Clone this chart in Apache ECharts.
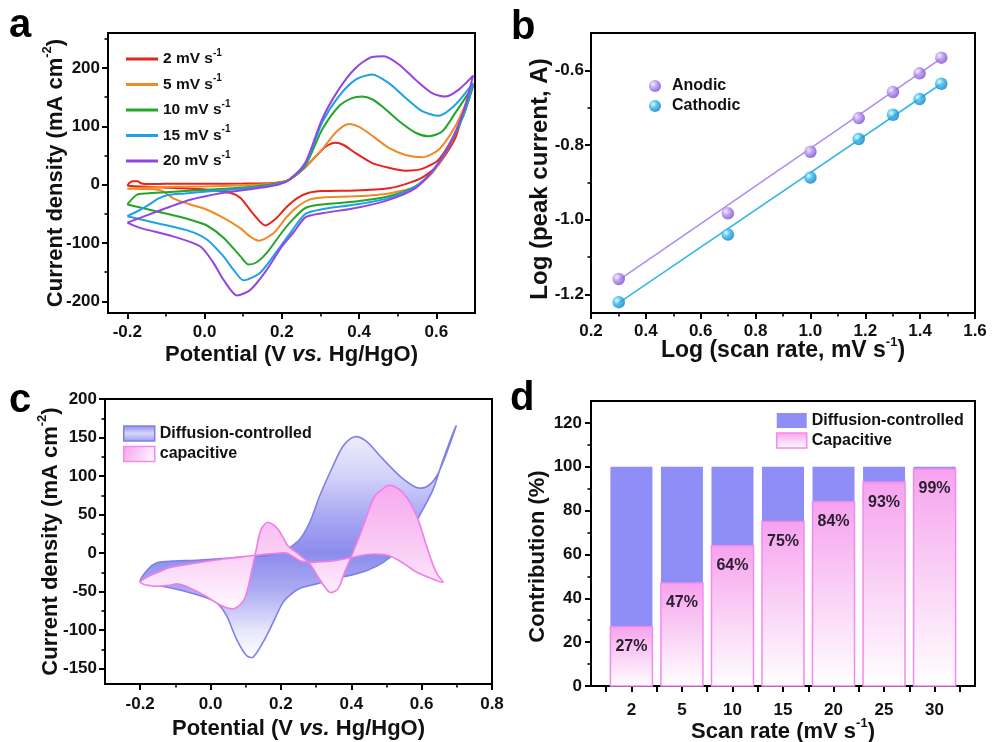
<!DOCTYPE html>
<html><head><meta charset="utf-8">
<script src="https://cdn.jsdelivr.net/npm/echarts@6/dist/echarts.min.js"></script>
<style>html,body{margin:0;padding:0;background:#fff}#c{width:992px;height:742px}</style>
</head><body><div id="c"></div>
<script>
// ================= DATA =================
// Panel a: CV curves [potential V, current density mA cm-2] in scan order
const cvNames = ['2 mV s-1', '5 mV s-1', '10 mV s-1', '15 mV s-1', '20 mV s-1'];
const cv2 = [[-0.2,-2],[-0.195,3],[-0.186,6],[-0.174,6],[-0.163,2],[-0.14,1],[-0.1,1.5],[0,1.5],[0.1,2],[0.18,3],[0.218,8],[0.261,30],[0.3,57],[0.32,68],[0.339,72],[0.36,68],[0.391,54],[0.434,37],[0.477,29],[0.52,24],[0.563,27],[0.606,43],[0.649,89],[0.695,172],
  [0.67,125],[0.649,80],[0.606,35],[0.563,12],[0.52,1],[0.477,-6],[0.391,-10],[0.304,-11],[0.27,-14],[0.24,-23],[0.213,-38],[0.185,-58],[0.157,-70],[0.127,-51],[0.093,-23],[0.066,-14],[0.006,-8.6],[-0.08,-5.7],[-0.166,-3],[-0.2,-2]];
const cv5 = [[-0.2,-7],[-0.15,-5],[-0.1,-4],[0,-3],[0.1,-1],[0.18,2],[0.218,8],[0.261,31],[0.304,60],[0.34,90],[0.374,104],[0.4,99],[0.434,84],[0.477,63],[0.52,51],[0.563,47],[0.606,60],[0.649,100],[0.695,169],
  [0.67,120],[0.632,64],[0.589,20],[0.546,-3],[0.477,-15],[0.391,-20],[0.304,-22],[0.27,-26],[0.24,-38],[0.213,-55],[0.179,-83],[0.14,-96],[0.12,-90],[0.093,-75],[0.049,-57],[0.006,-43],[-0.037,-34],[-0.08,-24],[-0.106,-12],[-0.13,-8],[-0.2,-7]];
const cv10 = [[-0.2,-34],[-0.187,-24],[-0.175,-17],[-0.15,-15],[-0.1,-13],[0,-9],[0.1,-5],[0.18,1],[0.218,8],[0.261,33],[0.304,94],[0.347,134],[0.38,148],[0.408,151],[0.435,146],[0.46,134],[0.503,109],[0.546,89],[0.58,83],[0.615,91],[0.649,123],[0.695,169],
  [0.67,118],[0.632,66],[0.589,22],[0.546,-3],[0.477,-20],[0.391,-29],[0.304,-34],[0.261,-40],[0.225,-62],[0.2,-82],[0.161,-117],[0.135,-133],[0.114,-137],[0.093,-123],[0.049,-91],[0.006,-70],[-0.037,-60],[-0.123,-46],[-0.2,-34]];
const cv15 = [[-0.2,-54],[-0.175,-46],[-0.148,-36],[-0.12,-24],[-0.097,-18],[-0.05,-15],[0,-12],[0.1,-7],[0.18,0],[0.218,8],[0.261,35],[0.304,106],[0.347,151],[0.391,180],[0.434,189],[0.477,174],[0.52,149],[0.563,126],[0.606,118],[0.649,137],[0.695,174],
  [0.67,120],[0.632,66],[0.589,22],[0.546,-3],[0.477,-23],[0.391,-34],[0.304,-42],[0.261,-50],[0.225,-80],[0.196,-106],[0.144,-151],[0.101,-164],[0.075,-146],[0.049,-123],[0.006,-94],[-0.037,-80],[-0.123,-66],[-0.2,-54]];
const cv20 = [[-0.2,-65],[-0.123,-46],[-0.037,-26],[0.049,-14],[0.136,-6],[0.19,0],[0.218,8],[0.261,38],[0.304,112],[0.347,163],[0.391,200],[0.434,219],[0.464,220],[0.503,206],[0.546,180],[0.589,157],[0.623,151],[0.658,163],[0.695,187],
  [0.67,125],[0.632,66],[0.589,23],[0.546,-6],[0.477,-26],[0.391,-40],[0.304,-49],[0.261,-56],[0.23,-82],[0.2,-106],[0.161,-146],[0.119,-180],[0.084,-190],[0.049,-163],[0.023,-134],[-0.011,-106],[-0.08,-89],[-0.167,-74],[-0.2,-65]];
const aXLabels = [-0.2, 0, 0.2, 0.4, 0.6];
const aXMinor = [-0.1, 0.1, 0.3, 0.5];
const aYLabels = [-200, -100, 0, 100, 200];
const aYMinor = [-150, -50, 50, 150, 250];

// Panel b: log(scan rate) vs log(peak current)
const logScanRate = [0.301, 0.699, 1.0, 1.176, 1.301, 1.398, 1.477];
const logAnodic = [-1.159, -0.983, -0.818, -0.728, -0.658, -0.608, -0.566];
const logCathodic = [-1.221, -1.040, -0.887, -0.784, -0.719, -0.677, -0.636];
const anodicFit = [[0.301, -1.162], [1.477, -0.568]];
const cathodicFit = [[0.301, -1.223], [1.477, -0.636]];
const bXLabels = [0.2, 0.4, 0.6, 0.8, 1.0, 1.2, 1.4, 1.6];
const bXMinor = [0.3, 0.5, 0.7, 0.9, 1.1, 1.3, 1.5];
const bYLabels = [-1.2, -1.0, -0.8, -0.6];
const bYMinor = [-1.1, -0.9, -0.7];

// Panel c: separated CV at 10 mV s-1 (closed loops)
const diffusionLoop = [[-0.2,-37],[-0.178,-21],[-0.154,-13],[-0.126,-11],[-0.031,-9],[0.064,-6],[0.159,-3],[0.2,1],[0.225,7],[0.254,18],[0.282,40],[0.31,74],[0.348,113],[0.377,139],[0.41,151],[0.443,145],[0.49,122],[0.538,100],[0.586,85],[0.614,86],[0.643,100],[0.671,130],[0.698,165],
  [0.661,121],[0.633,83],[0.604,57],[0.567,27],[0.529,3],[0.491,-12],[0.443,-23],[0.396,-29],[0.348,-34],[0.301,-40],[0.253,-46],[0.23,-53],[0.206,-64],[0.178,-90],[0.149,-116],[0.121,-135],[0.102,-133],[0.073,-111],[0.045,-81],[0.016,-64],[-0.031,-55],[-0.079,-49],[-0.126,-44],[-0.173,-40]];
const capacitiveLoop = [[-0.2,-38],[-0.175,-30],[-0.15,-25],[-0.112,-18.5],[-0.055,-14],[0.021,-8.6],[0.078,-5.6],[0.116,-3.4],[0.17,-1],[0.215,0],[0.24,-6],[0.254,-10],[0.282,-12],[0.329,-11],[0.377,-8],[0.424,-3.4],[0.462,-1.3],[0.5,-2.6],[0.529,-8],[0.557,-16],[0.586,-25],[0.633,-34],[0.661,-38],
  [0.645,-28],[0.633,-16],[0.614,9],[0.586,48],[0.548,78],[0.51,88],[0.48,80],[0.462,70],[0.434,35],[0.405,1],[0.381,-25],[0.362,-46.5],[0.339,-51],[0.31,-34],[0.282,-14],[0.249,-1],[0.22,9.5],[0.192,31],[0.163,40],[0.144,31],[0.13,5],[0.116,-25],[0.097,-59],[0.068,-72],[0.03,-68],[-0.017,-55],[-0.06,-45],[-0.093,-40],[-0.12,-42],[-0.159,-43]];
const cXLabels = [-0.2, 0, 0.2, 0.4, 0.6, 0.8];
const cXMinor = [-0.1, 0.1, 0.3, 0.5, 0.7];
const cYLabels = [-150, -100, -50, 0, 50, 100, 150, 200];
const cYMinor = [-125, -75, -25, 25, 75, 125, 175];

// Panel d: contribution (%)
const dScanRates = ['2', '5', '10', '15', '20', '25', '30'];
const capPercent = [27, 47, 64, 75, 84, 93, 99];
const diffPercent = [73, 53, 36, 25, 16, 7, 1];
const dXTicks = [0.5, 1, 1.5, 2, 2.5, 3, 3.5, 4, 4.5, 5, 5.5, 6, 6.5, 7, 7.5];
const dYLabels = [0, 20, 40, 60, 80, 100, 120];
const dYMinor = [10, 30, 50, 70, 90, 110];

// ================= STYLE =================
const FONT = '"Liberation Sans", Arial, Helvetica, sans-serif';
const cvColors = ['#e8231c', '#f08a26', '#22a52a', '#1fa1e6', '#9444e0'];
const supStyle = (fs, lh) => ({fontSize: fs, fontWeight: 'bold', fontFamily: FONT, color: '#111', verticalAlign: 'top', lineHeight: lh});
const makeNameStyle = (fs, extra) => Object.assign({
  fontSize: fs, fontWeight: 'bold', fontFamily: FONT, color: '#111', lineHeight: 30,
  rich: {
    sup: supStyle(13, 14),
    it: {fontSize: fs, fontWeight: 'bold', fontStyle: 'italic', fontFamily: FONT, color: '#111', lineHeight: 30}
  }
}, extra || {});

function makeAxes(gridIndex, dim, o) {
  const isX = dim === 'x';
  const base = {type: 'value', gridIndex, min: o.min, max: o.max, position: isX ? 'bottom' : 'left', splitLine: {show: false}};
  const primary = Object.assign({}, base, {
    axisLine: {show: true, onZero: false, lineStyle: {color: '#000', width: 2}},
    axisTick: {show: true, inside: false, length: 6, customValues: o.major, lineStyle: {color: '#000', width: 2}},
    axisLabel: {show: true, customValues: o.labels, formatter: o.fmt, margin: o.margin,
      fontSize: 17, fontWeight: 'bold', fontFamily: FONT, color: '#111'},
    name: o.name, nameLocation: 'middle', nameGap: o.nameGap, nameRotate: isX ? 0 : 90,
    nameMoveOverlap: false,
    nameTextStyle: makeNameStyle(o.nameSize || 22, o.nameExtra)
  });
  const minor = Object.assign({}, base, {
    axisLine: {show: false, onZero: false},
    axisTick: {show: !!o.minor, inside: false, length: o.minorLen || 3.5, customValues: o.minor || [], lineStyle: {color: '#000', width: 1.6}},
    axisLabel: {show: false}
  });
  return [primary, minor];
}
const f1 = v => v.toFixed(1);
const f0 = v => String(Math.round(v));

const grids = [
  {left: 108, top: 33, width: 367, height: 280},
  {left: 591, top: 33, width: 384, height: 280},
  {left: 105, top: 399, width: 387, height: 285},
  {left: 591, top: 401, width: 384, height: 285}
].map(g => Object.assign(g, {show: true, borderColor: '#000', borderWidth: 2, backgroundColor: 'rgba(0,0,0,0)',
  containLabel: false, outerBoundsMode: 'none'}));

const xAxes = [].concat(
  makeAxes(0, 'x', {min: -0.25, max: 0.7, labels: aXLabels, major: aXLabels, minor: aXMinor, fmt: f1, margin: 11,
    name: 'Potential (V {it|vs.} Hg/HgO)', nameGap: 27}),
  makeAxes(1, 'x', {min: 0.2, max: 1.6, labels: bXLabels, major: bXLabels, minor: bXMinor, fmt: f1, margin: 10,
    name: 'Log (scan rate, mV s{sup|-1})', nameGap: 23, nameSize: 23}),
  makeAxes(2, 'x', {min: -0.3, max: 0.8, labels: cXLabels, major: cXLabels, minor: cXMinor, fmt: f1, margin: 12,
    name: 'Potential (V {it|vs.} Hg/HgO)', nameGap: 30}),
  makeAxes(3, 'x', {min: 0.2, max: 7.8, labels: [1,2,3,4,5,6,7], major: dXTicks, minor: null,
    fmt: v => dScanRates[Math.round(v) - 1], margin: 16, name: 'Scan rate (mV s{sup|-1})', nameGap: 31})
);
const yAxes = [].concat(
  makeAxes(0, 'y', {min: -220, max: 260, labels: aYLabels, major: aYLabels, minor: aYMinor, fmt: f0, margin: 8,
    name: 'Current density (mA cm{sup|-2})', nameGap: 37}),
  makeAxes(1, 'y', {min: -1.25, max: -0.5, labels: bYLabels, major: bYLabels, minor: bYMinor, fmt: f1, margin: 7,
    name: 'Log (peak current, A)', nameGap: 36, nameSize: 24, nameExtra: {padding: [0, 12, 0, 0]}}),
  makeAxes(2, 'y', {min: -170, max: 200, labels: cYLabels, major: cYLabels, minor: cYMinor, fmt: f0, margin: 8,
    name: 'Current density (mA cm{sup|-2})', nameGap: 39}),
  makeAxes(3, 'y', {min: 0, max: 130, labels: dYLabels, major: dYLabels, minor: dYMinor, fmt: f0, margin: 9,
    name: 'Contribution (%)', nameGap: 38, nameExtra: {padding: [0, 26, 0, 0]}})
);

// gradients
const sphere = (hi, mid, lo) => ({type: 'radial', x: 0.35, y: 0.35, r: 0.7,
  colorStops: [{offset: 0, color: hi}, {offset: 0.45, color: mid}, {offset: 1, color: lo}]});
const purpleBall = sphere('#f3eaff', '#b08cf0', '#7447c4');
const cyanBall = sphere('#dff6ff', '#2db6ee', '#0b78b6');
const blueLoopFill = {type: 'linear', x: 0, y: 0, x2: 0, y2: 1, colorStops: [
  {offset: 0, color: '#f4f4ff'}, {offset: 0.22, color: '#d2d2f9'}, {offset: 0.4, color: '#a6a6f3'},
  {offset: 0.55, color: '#8c8cee'}, {offset: 0.7, color: '#a9a9f2'}, {offset: 0.88, color: '#e6e6fb'}, {offset: 1, color: '#ffffff'}]};
const pinkLoopFill = {type: 'linear', x: 0, y: 0, x2: 0, y2: 1, colorStops: [
  {offset: 0, color: '#f7a8ee'}, {offset: 0.6, color: '#fad4f6'}, {offset: 1, color: '#fffafe'}]};
const pinkBarFill = {type: 'linear', x: 0, y: 0, x2: 0, y2: 1, colorStops: [
  {offset: 0, color: '#f6a2ee'}, {offset: 0.5, color: '#fad2f6'}, {offset: 1, color: '#ffffff'}]};
const blueLegendFill = {type: 'linear', x: 0, y: 0, x2: 0, y2: 1, colorStops: [
  {offset: 0, color: '#8a8aee'}, {offset: 0.5, color: '#d6d6fa'}, {offset: 1, color: '#9a9af0'}]};
const pinkLegendFill = {type: 'linear', x: 0, y: 0, x2: 1, y2: 1, colorStops: [
  {offset: 0, color: '#f7a0ee'}, {offset: 1, color: '#ffffff'}]};

function loopRenderer(fill, stroke) {
  return function (params, api) {
    if (params.dataIndex !== 0) return null;
    const n = params.dataInsideLength;
    const pts = [];
    for (let i = 0; i < n; i++) pts.push(api.coord([api.value(0, i), api.value(1, i)]));
    return {type: 'polygon', shape: {points: pts, smooth: 0.3}, style: {fill: fill, stroke: stroke, lineWidth: 1.6}};
  };
}

// stacked bar renderer (custom): base = value(s) beneath this segment
const BAR_W = 42;
function barRenderer(baseArr, fill, stroke, withLabel) {
  return function (params, api) {
    const i = params.dataIndex;
    const x = api.value(0), v = api.value(1);
    const b = baseArr ? baseArr[i] : 0;
    const p0 = api.coord([x, b]);
    const p1 = api.coord([x, b + v]);
    const children = [{type: 'rect', shape: {x: p0[0] - BAR_W / 2, y: p1[1], width: BAR_W, height: p0[1] - p1[1]},
      style: {fill: fill, stroke: stroke || null, lineWidth: stroke ? 1.5 : 0}}];
    if (withLabel) children.push({type: 'text', x: p0[0], y: p1[1] + 12,
      style: {text: v + '%', align: 'center', verticalAlign: 'top', font: 'bold 16px ' + FONT, fill: '#2a2030'}});
    return {type: 'group', children: children};
  };
}

const series = [];
[cv2, cv5, cv10, cv15, cv20].forEach((d, i) => series.push({
  type: 'line', name: cvNames[i], xAxisIndex: 0, yAxisIndex: 0, data: d,
  symbol: 'none', showSymbol: false, smooth: 0.25,
  lineStyle: {width: 2, color: cvColors[i]}, itemStyle: {color: cvColors[i]}, z: 3
}));
series.push(
  {type: 'line', name: 'AnodicFit', xAxisIndex: 2, yAxisIndex: 2, data: anodicFit, symbol: 'none',
    lineStyle: {width: 1.6, color: '#ae8ef0'}, z: 2},
  {type: 'line', name: 'CathodicFit', xAxisIndex: 2, yAxisIndex: 2, data: cathodicFit, symbol: 'none',
    lineStyle: {width: 1.6, color: '#38b6e4'}, z: 2},
  {type: 'scatter', name: 'Anodic', xAxisIndex: 2, yAxisIndex: 2, symbolSize: 12.5,
    data: logScanRate.map((x, i) => [x, logAnodic[i]]), itemStyle: {color: purpleBall}, z: 4},
  {type: 'scatter', name: 'Cathodic', xAxisIndex: 2, yAxisIndex: 2, symbolSize: 12.5,
    data: logScanRate.map((x, i) => [x, logCathodic[i]]), itemStyle: {color: cyanBall}, z: 4},
  {type: 'custom', name: 'Diffusion-controlled', xAxisIndex: 4, yAxisIndex: 4, data: diffusionLoop,
    renderItem: loopRenderer(blueLoopFill, '#7f7fe6'), itemStyle: {color: '#8c8cee'}, z: 2},
  {type: 'custom', name: 'capacitive', xAxisIndex: 4, yAxisIndex: 4, data: capacitiveLoop,
    renderItem: loopRenderer(pinkLoopFill, '#f07ee6'), itemStyle: {color: '#f7a8ee'}, z: 3},
  {type: 'custom', name: 'Capacitive', xAxisIndex: 6, yAxisIndex: 6,
    data: capPercent.map((v, i) => [i + 1, v]),
    renderItem: barRenderer(null, pinkBarFill, '#f38bec', true), itemStyle: {color: '#f6a2ee'}, z: 3},
  {type: 'custom', name: 'Diffusion-controlled', xAxisIndex: 6, yAxisIndex: 6,
    data: diffPercent.map((v, i) => [i + 1, v]),
    renderItem: barRenderer(capPercent, '#8e8ef6', null, false), itemStyle: {color: '#8e8ef6'}, z: 2}
);

const legendText = (fs, lh) => ({fontSize: fs, fontWeight: 'bold', fontFamily: FONT, color: '#111', lineHeight: lh,
  rich: {sup: supStyle(10, 10)}});

const option = {
  animation: false,
  backgroundColor: '#fff',
  grid: grids,
  xAxis: xAxes,
  yAxis: yAxes,
  legend: [
    {left: 121, top: 43, orient: 'vertical', itemWidth: 32, itemHeight: 3, itemGap: 3.5, selectedMode: false, icon: 'rect',
      data: cvNames.map((n, i) => ({name: n, itemStyle: {color: cvColors[i], borderWidth: 0}})),
      formatter: n => n.replace(/s-1$/, 's{sup|-1}'), textStyle: legendText(15.5, 22)},
    {left: 644, top: 71, orient: 'vertical', itemWidth: 24, itemHeight: 12, itemGap: 0, selectedMode: false, icon: 'circle',
      data: [{name: 'Anodic', itemStyle: {color: purpleBall}}, {name: 'Cathodic', itemStyle: {color: cyanBall}}],
      textStyle: legendText(16, 20)},
    {left: 123, top: 423.5, padding: 0, orient: 'vertical', itemWidth: 31, itemHeight: 15, itemGap: 0.5, selectedMode: false, icon: 'rect',
      data: [{name: 'Diffusion-controlled', itemStyle: {color: blueLegendFill, borderColor: '#8080e8', borderWidth: 1.5}},
             {name: 'capacitive', itemStyle: {color: pinkLegendFill, borderColor: '#f38bec', borderWidth: 1.5}}],
      textStyle: legendText(16, 20)},
    {left: 776, top: 410.5, padding: 0, orient: 'vertical', itemWidth: 30, itemHeight: 15, itemGap: 0, selectedMode: false, icon: 'rect',
      data: [{name: 'Diffusion-controlled', itemStyle: {color: '#8e8ef6', borderWidth: 0}},
             {name: 'Capacitive', itemStyle: {color: pinkBarFill, borderColor: '#f38bec', borderWidth: 1.5}}],
      textStyle: legendText(16, 20)}
  ],
  graphic: [
    {type: 'text', x: 9, y: 26, style: {text: 'a', font: 'bold 40px ' + FONT, fill: '#000', verticalAlign: 'middle'}},
    {type: 'text', x: 511, y: 28, style: {text: 'b', font: 'bold 40px ' + FONT, fill: '#000', verticalAlign: 'middle'}},
    {type: 'text', x: 9, y: 401, style: {text: 'c', font: 'bold 40px ' + FONT, fill: '#000', verticalAlign: 'middle'}},
    {type: 'text', x: 510, y: 399, style: {text: 'd', font: 'bold 40px ' + FONT, fill: '#000', verticalAlign: 'middle'}}
  ],
  series: series
};
const chart = echarts.init(document.getElementById('c'), null, {renderer: 'canvas'});
chart.setOption(option);
</script></body></html>
